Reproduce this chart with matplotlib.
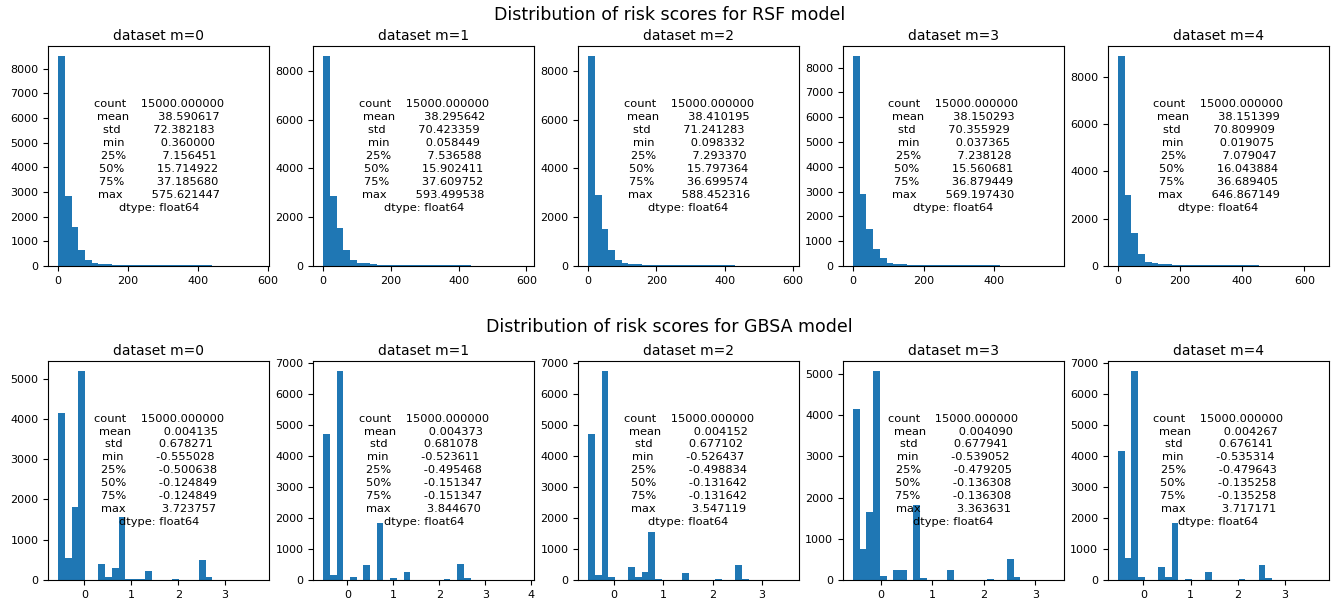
import numpy as np
import pandas as pd
import matplotlib
matplotlib.use("Agg")
import matplotlib.pyplot as plt
from matplotlib.ticker import MaxNLocator

stat_names = ["count", "mean", "std", "min", "25%", "50%", "75%", "max"]

# RSF risk score summary (describe()) for each imputed dataset
rsf_stats = [
    [15000.0, 38.590617, 72.382183, 0.360000, 7.156451, 15.714922, 37.185680, 575.621447],
    [15000.0, 38.295642, 70.423359, 0.058449, 7.536588, 15.902411, 37.609752, 593.499538],
    [15000.0, 38.410195, 71.241283, 0.098332, 7.293370, 15.797364, 36.699574, 588.452316],
    [15000.0, 38.150293, 70.355929, 0.037365, 7.238128, 15.560681, 36.879449, 569.197430],
    [15000.0, 38.151399, 70.809909, 0.019075, 7.079047, 16.043884, 36.689405, 646.867149],
]

# GBSA risk score summary
gbsa_stats = [
    [15000.0, 0.004135, 0.678271, -0.555028, -0.500638, -0.124849, -0.124849, 3.723757],
    [15000.0, 0.004373, 0.681078, -0.523611, -0.495468, -0.151347, -0.151347, 3.844670],
    [15000.0, 0.004152, 0.677102, -0.526437, -0.498834, -0.131642, -0.131642, 3.547119],
    [15000.0, 0.004090, 0.677941, -0.539052, -0.479205, -0.136308, -0.136308, 3.363631],
    [15000.0, 0.004267, 0.676141, -0.535314, -0.479643, -0.135258, -0.135258, 3.717171],
]

# histogram counts (30 bins between min and max)
rsf_counts = [
    [8500, 2850, 1560, 660, 240, 110, 90, 70, 50, 35, 25, 20, 20, 25, 35,
     40, 45, 45, 40, 40, 35, 30, 20, 10, 5, 3, 2, 1, 0, 1],
    [8600, 2850, 1560, 650, 230, 130, 100, 80, 55, 35, 25, 20, 20, 25, 35,
     40, 40, 40, 40, 35, 30, 20, 10, 5, 3, 2, 1, 0, 0, 1],
    [8600, 2900, 1500, 650, 230, 110, 85, 70, 55, 40, 30, 20, 20, 25, 35,
     40, 45, 45, 40, 35, 30, 20, 10, 5, 3, 2, 1, 0, 0, 1],
    [8450, 2900, 1500, 700, 320, 110, 90, 70, 50, 40, 30, 20, 20, 20, 25,
     35, 40, 45, 45, 40, 35, 25, 15, 5, 3, 2, 1, 0, 0, 1],
    [8850, 3000, 1400, 500, 170, 140, 100, 70, 50, 35, 25, 20, 25, 35, 45,
     50, 50, 45, 40, 30, 20, 10, 5, 3, 2, 1, 0, 0, 0, 1],
]

gbsa_counts = [
    [4150, 550, 1820, 5180, 0, 0, 400, 70, 300, 1550, 20, 10, 10, 220, 0,
     0, 5, 30, 0, 0, 0, 500, 60, 0, 0, 0, 0, 0, 0, 5],
    [4700, 170, 6720, 0, 100, 0, 470, 0, 1820, 0, 60, 0, 250, 0, 0,
     0, 0, 0, 30, 0, 500, 60, 0, 0, 0, 0, 0, 0, 0, 5],
    [4700, 150, 6720, 100, 0, 0, 400, 100, 250, 1550, 20, 0, 0, 0, 220,
     0, 0, 0, 0, 30, 0, 0, 470, 40, 0, 0, 0, 0, 0, 5],
    [4150, 750, 1650, 5070, 100, 0, 250, 230, 0, 1820, 40, 0, 0, 0, 250,
     0, 0, 0, 0, 0, 30, 0, 0, 500, 60, 0, 0, 0, 0, 5],
    [4150, 720, 6720, 100, 0, 0, 400, 100, 1820, 0, 20, 0, 0, 250, 0,
     0, 0, 0, 30, 0, 0, 470, 50, 0, 0, 0, 0, 0, 0, 5],
]

models = ["RSF", "GBSA"]
all_stats = [rsf_stats, gbsa_stats]
all_counts = [rsf_counts, gbsa_counts]

fig = plt.figure(figsize=(13.39, 6.05), dpi=100)
subfigs = fig.subfigures(2, 1)
tops = [0.848, 0.807]
bottoms = [0.121, 0.083]
title_y = [0.95, 0.919]

for r, sf in enumerate(subfigs):
    axes = sf.subplots(1, 5)
    sf.subplots_adjust(left=0.036, right=0.9925, top=tops[r], bottom=bottoms[r], wspace=0.199)
    sf.suptitle(f"Distribution of risk scores for {models[r]} model", y=title_y[r],
                va="center", fontsize=12.5)
    for m, ax in enumerate(axes):
        stats = all_stats[r][m]
        counts = np.array(all_counts[r][m], dtype=float)
        edges = np.linspace(stats[3], stats[7], len(counts) + 1)
        ax.hist(edges[:-1], bins=edges, weights=counts, color="#1f77b4")
        ax.yaxis.set_major_locator(MaxNLocator(nbins=9, steps=[1, 2, 2.5, 5, 10]))
        ax.tick_params(labelsize=8)
        ax.set_title(f"dataset m={m}", fontsize=10, pad=4)
        # pandas describe() output printed in the middle of the panel
        desc = str(pd.Series(stats, index=stat_names))
        ax.text(0.5, 0.5, desc, transform=ax.transAxes, ha="center", va="center",
                fontsize=8.2, linespacing=1.37)

fig.savefig("out.png", dpi=100)
